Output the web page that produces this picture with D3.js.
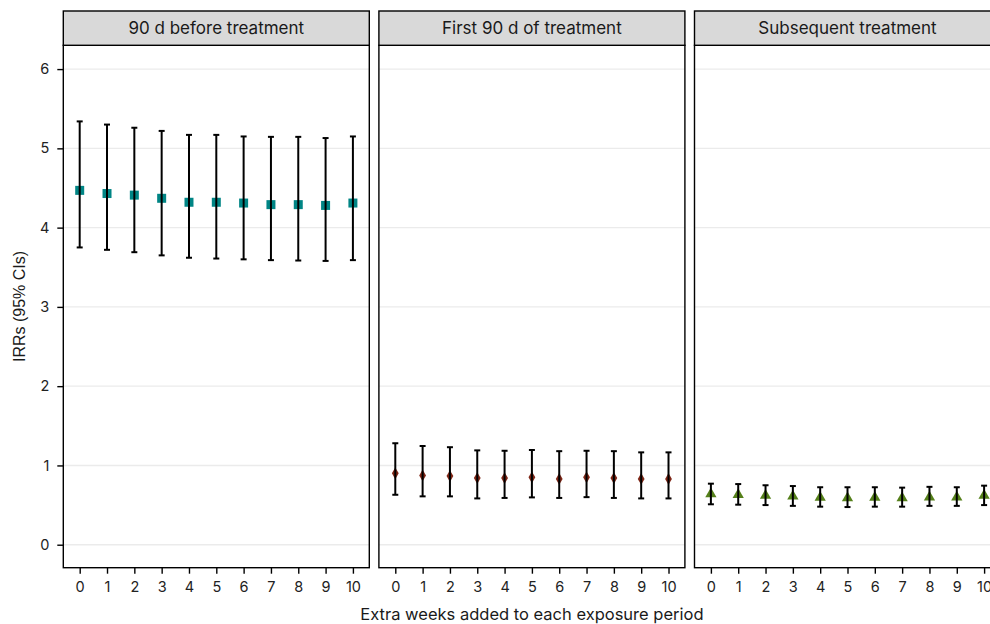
<!DOCTYPE html>
<html><head><meta charset="utf-8">
<script src="https://cdn.jsdelivr.net/npm/d3@7"></script>
<style>html,body{margin:0;padding:0;background:#fff;overflow:hidden}</style>
</head><body><svg id="c" width="990" height="624"></svg>
<script>
const weeks = [0,1,2,3,4,5,6,7,8,9,10];
const panels = ["90 d before treatment","First 90 d of treatment","Subsequent treatment"];
const beforeEst = [4.47,4.43,4.41,4.37,4.32,4.32,4.31,4.29,4.29,4.28,4.31];
const beforeLo  = [3.75,3.72,3.69,3.65,3.62,3.61,3.60,3.59,3.585,3.58,3.59];
const beforeHi  = [5.34,5.30,5.26,5.22,5.17,5.17,5.15,5.145,5.145,5.13,5.15];
const firstEst = [0.90,0.874,0.866,0.84,0.84,0.85,0.83,0.85,0.84,0.83,0.83];
const firstLo  = [0.63,0.61,0.61,0.584,0.59,0.597,0.59,0.60,0.59,0.584,0.584];
const firstHi  = [1.28,1.245,1.23,1.19,1.185,1.195,1.18,1.185,1.18,1.165,1.165];
const subsEst = [0.64,0.63,0.62,0.61,0.595,0.59,0.595,0.59,0.60,0.60,0.62];
const subsLo  = [0.51,0.505,0.50,0.49,0.48,0.475,0.48,0.48,0.49,0.49,0.50];
const subsHi  = [0.77,0.765,0.75,0.74,0.725,0.725,0.725,0.72,0.73,0.725,0.745];
const yTicks = [0,1,2,3,4,5,6];
const xTitle = "Extra weeks added to each exposure period";
const yTitle = "IRRs (95% CIs)";

const series = [
  {est:beforeEst, lo:beforeLo, hi:beforeHi, shape:"square", color:"#008585"},
  {est:firstEst, lo:firstLo, hi:firstHi, shape:"diamond", color:"#7e2616"},
  {est:subsEst, lo:subsLo, hi:subsHi, shape:"triangle", color:"#55801a"}
];

const svg = d3.select("#c");
const font = "Inter, 'DejaVu Sans', sans-serif";
const left0 = 63.3, pw = 306, step = 315.6, plotTop = 45.3, plotBottom = 567.7, stripTop = 11;
const y = d3.scaleLinear().domain([-0.29, 6.30]).range([plotBottom, plotTop]);

panels.forEach((name, i) => {
  const x0 = left0 + i*step;
  const x = d3.scaleLinear().domain([-0.6, 10.6]).range([x0, x0+pw]);
  const g = svg.append("g");
  g.append("rect").attr("x",x0).attr("y",plotTop).attr("width",pw).attr("height",plotBottom-plotTop).attr("fill","#fff");
  g.selectAll("line.grid").data(yTicks).join("line")
    .attr("x1",x0).attr("x2",x0+pw).attr("y1",d=>y(d)).attr("y2",d=>y(d))
    .attr("stroke","#ebebeb").attr("stroke-width",1.4);
  const s = series[i];
  const pts = weeks.map((w,k)=>({w, est:s.est[k], lo:s.lo[k], hi:s.hi[k]}));
  const sym = s.shape==="square" ? d3.symbolSquare : s.shape==="diamond" ? d3.symbolDiamond : d3.symbolTriangle;
  const size = s.shape==="square" ? 81 : s.shape==="diamond" ? 40 : 55;
  g.selectAll("path.pt").data(pts).join("path")
    .attr("d", d3.symbol().type(sym).size(size))
    .attr("transform", d=>`translate(${x(d.w)},${y(d.est)})`)
    .attr("fill", s.color);
  const cap = 3;
  const eb = g.selectAll("g.eb").data(pts).join("g").attr("stroke","#000").attr("stroke-width",2);
  eb.append("line").attr("x1",d=>x(d.w)).attr("x2",d=>x(d.w)).attr("y1",d=>y(d.lo)).attr("y2",d=>y(d.hi));
  eb.append("line").attr("x1",d=>x(d.w)-cap).attr("x2",d=>x(d.w)+cap).attr("y1",d=>y(d.lo)).attr("y2",d=>y(d.lo));
  eb.append("line").attr("x1",d=>x(d.w)-cap).attr("x2",d=>x(d.w)+cap).attr("y1",d=>y(d.hi)).attr("y2",d=>y(d.hi));
  g.append("rect").attr("x",x0).attr("y",plotTop).attr("width",pw).attr("height",plotBottom-plotTop)
    .attr("fill","none").attr("stroke","#000").attr("stroke-width",1.4);
  g.append("rect").attr("x",x0).attr("y",stripTop).attr("width",pw).attr("height",plotTop-stripTop)
    .attr("fill","#d9d9d9").attr("stroke","#000").attr("stroke-width",1.4);
  g.append("text").attr("x",x0+pw/2).attr("y",(stripTop+plotTop)/2).attr("dy","0.36em")
    .attr("text-anchor","middle").attr("font-family",font).attr("font-size",17).attr("fill","#1a1a1a").text(name);
  const xa = g.append("g").attr("transform",`translate(0,${plotBottom})`)
    .call(d3.axisBottom(x).tickValues(weeks).tickFormat(d3.format("d")).tickSize(6).tickPadding(8).tickSizeOuter(0));
  xa.select(".domain").remove();
  xa.selectAll(".tick line").attr("stroke","#000").attr("stroke-width",1.4);
  xa.selectAll("text").attr("font-family",font).attr("font-size",14.5).attr("fill","#222");
  if (i===0) {
    const ya = g.append("g").attr("transform",`translate(${x0},0)`)
      .call(d3.axisLeft(y).tickValues(yTicks).tickFormat(d3.format("d")).tickSize(6).tickPadding(8).tickSizeOuter(0));
    ya.select(".domain").remove();
    ya.selectAll(".tick line").attr("stroke","#000").attr("stroke-width",1.4);
    ya.selectAll("text").attr("font-family",font).attr("font-size",14.5).attr("fill","#222");
  }
});

svg.append("text").attr("x", (left0 + 2*step + pw + left0)/2).attr("y", 620)
  .attr("text-anchor","middle").attr("font-family",font).attr("font-size",16.5).attr("fill","#1a1a1a").text(xTitle);
svg.append("text").attr("transform",`translate(25,${(plotTop+plotBottom)/2}) rotate(-90)`)
  .attr("text-anchor","middle").attr("font-family","'Liberation Sans', Arial, sans-serif").attr("font-size",16).attr("fill","#1a1a1a").text(yTitle);
</script></body></html>
